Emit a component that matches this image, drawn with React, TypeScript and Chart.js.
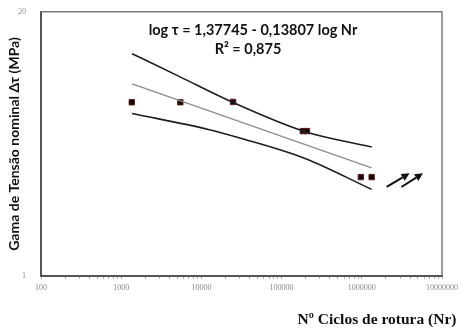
import React, { useEffect, useRef } from "react";
import { Chart, registerables } from "chart.js";
Chart.register(...registerables);

// Experimental points (Nr, Δτ)
const pointN = [1355, 5460, 24840, 184000, 207000, 973000, 1327000];
const pointT = [7.17, 7.17, 7.2, 5.17, 5.17, 3.07, 3.07];
// Regression line
const meanN = [1368, 1327000];
const meanT = [8.83, 3.41];
// Upper band
const upperN = [1368, 5350, 24840, 192400, 1327000];
const upperT = [12.44, 9.59, 7.15, 5.15, 4.32];
// Lower band
const lowerN = [1368, 12190, 28640, 192400, 1327000];
const lowerT = [6.31, 5.27, 4.81, 3.8, 2.67];
// Arrows annotation
const arrowFromN = [2.04e6, 3.12e6];
const arrowFromT = [2.744, 2.744];
const arrowToN = [3.94e6, 5.78e6];
const arrowToT = [3.204, 3.204];
// Axis ticks
const xMajorTicks = [100, 1000, 10000, 100000, 1000000, 10000000];
const xTickLabels = ["100", "1000", "10000", "100000", "1000000", "10000000"];
const yTickValues = [1, 20];
const yTickLabels = ["1", "20"];

const equationText = "log \u03c4 = 1,37745 - 0,13807 log Nr";
const r2Text = "R\u00b2 = 0,875";
const yTitle = "Gama de Tens\u00e3o nominal \u0394\u03c4 (MPa)";
const xTitle = "N\u00ba Ciclos de rotura (Nr)";

const zip = (xs: number[], ys: number[]) => xs.map((x, i) => ({ x, y: ys[i] }));

export default function App() {
  const ref = useRef<HTMLCanvasElement | null>(null);
  useEffect(() => {
    document.body.style.margin = "0";
    const canvas = ref.current!;
    const overlay = {
      id: "overlay",
      afterDraw(chart: any) {
        const { ctx, chartArea: a, scales } = chart;
        const xs = scales.x, ys = scales.y;
        ctx.save();
        // frame top and right
        ctx.strokeStyle = "#7a7a7a";
        ctx.lineWidth = 1.5;
        ctx.beginPath();
        ctx.moveTo(a.left, a.top);
        ctx.lineTo(a.right, a.top);
        ctx.lineTo(a.right, a.bottom);
        ctx.stroke();
        // arrows
        ctx.strokeStyle = "#111";
        ctx.fillStyle = "#111";
        ctx.lineWidth = 2;
        for (let i = 0; i < arrowFromN.length; i++) {
          const x1 = xs.getPixelForValue(arrowFromN[i]);
          const y1 = ys.getPixelForValue(arrowFromT[i]);
          const x2 = xs.getPixelForValue(arrowToN[i]);
          const y2 = ys.getPixelForValue(arrowToT[i]);
          const ang = Math.atan2(y2 - y1, x2 - x1);
          const hl = 8, hw = 4;
          const bx = x2 - hl * Math.cos(ang), by = y2 - hl * Math.sin(ang);
          ctx.beginPath();
          ctx.moveTo(x1, y1);
          ctx.lineTo(bx, by);
          ctx.stroke();
          ctx.beginPath();
          ctx.moveTo(x2, y2);
          ctx.lineTo(bx + hw * Math.sin(ang), by - hw * Math.cos(ang));
          ctx.lineTo(bx - hw * Math.sin(ang), by + hw * Math.cos(ang));
          ctx.closePath();
          ctx.fill();
        }
        // equation
        ctx.fillStyle = "#111";
        ctx.font = "bold 14.5px Lato, 'Open Sans', sans-serif";
        ctx.textAlign = "center";
        ctx.textBaseline = "middle";
        ctx.fillText(equationText, 253, 30);
        ctx.fillText(r2Text, 248, 49);
        // x title
        ctx.font = "bold 15.5px 'Liberation Serif', serif";
        ctx.fillText(xTitle, 377, 320);
        // y title
        ctx.translate(14, 144);
        ctx.rotate(-Math.PI / 2);
        ctx.font = "bold 14px Lato, 'Open Sans', sans-serif";
        ctx.fillText(yTitle, 0, 0);
        ctx.restore();
      },
    };
    const chart = new Chart(canvas, {
      type: "line",
      data: {
        datasets: [
          {
            data: zip(upperN, upperT),
            borderColor: "#1e1e1e",
            borderWidth: 1.6,
            pointRadius: 0,
            cubicInterpolationMode: "monotone",
          },
          {
            data: zip(meanN, meanT),
            borderColor: "#8c8c8c",
            borderWidth: 1.2,
            pointRadius: 0,
          },
          {
            data: zip(lowerN, lowerT),
            borderColor: "#1e1e1e",
            borderWidth: 1.6,
            pointRadius: 0,
            cubicInterpolationMode: "monotone",
          },
          {
            data: zip(pointN, pointT),
            showLine: false,
            pointStyle: "rect",
            pointRadius: 3.8,
            backgroundColor: "#1a0505",
            borderColor: "#5a1c1c",
            borderWidth: 1,
          },
        ],
      } as any,
      options: {
        animation: false,
        responsive: false,
        maintainAspectRatio: false,
        layout: { padding: { top: 11, right: 16, left: 0, bottom: 0 } },
        plugins: { legend: { display: false }, tooltip: { enabled: false } },
        scales: {
          x: {
            type: "logarithmic",
            min: 100,
            max: 10000000,
            afterFit: (s: any) => {
              s.height = 55;
            },
            afterBuildTicks: (s: any) => {
              const t: any[] = [];
              for (let d = 0; d < xMajorTicks.length; d++) {
                const base = xMajorTicks[d];
                t.push({ value: base });
                if (d < xMajorTicks.length - 1) {
                  for (let m = 2; m <= 9; m++) t.push({ value: base * m });
                }
              }
              s.ticks = t;
            },
            ticks: {
              autoSkip: false,
              maxRotation: 0,
              padding: 4,
              color: "#8a8a8a",
              font: { family: "'Liberation Serif', serif", size: 8 },
              callback: (v: any) => {
                const i = xMajorTicks.indexOf(Number(v));
                return i >= 0 ? xTickLabels[i] : "";
              },
            },
            grid: {
              display: true,
              drawOnChartArea: false,
              drawTicks: true,
              tickLength: 3,
              color: "#b0b0b0",
            },
            border: { display: true, color: "#555", width: 2 },
          },
          y: {
            type: "logarithmic",
            min: 1,
            max: 20,
            afterFit: (s: any) => {
              s.width = 41;
            },
            afterBuildTicks: (s: any) => {
              s.ticks = yTickValues.map((v) => ({ value: v }));
            },
            ticks: {
              autoSkip: false,
              padding: 7,
              color: "#8a8a8a",
              font: { family: "'Liberation Serif', serif", size: 8 },
              callback: (v: any) => {
                const i = yTickValues.indexOf(Number(v));
                return i >= 0 ? yTickLabels[i] : "";
              },
            },
            grid: { display: false },
            border: { display: true, color: "#555", width: 2 },
          },
        },
      } as any,
      plugins: [overlay],
    });
    return () => chart.destroy();
  }, []);
  return (
    <div style={{ position: "absolute", left: 0, top: 0, width: 462, height: 331, background: "#fff" }}>
      <canvas ref={ref} width={462} height={331} style={{ width: 462, height: 331, display: "block" }} />
    </div>
  );
}
